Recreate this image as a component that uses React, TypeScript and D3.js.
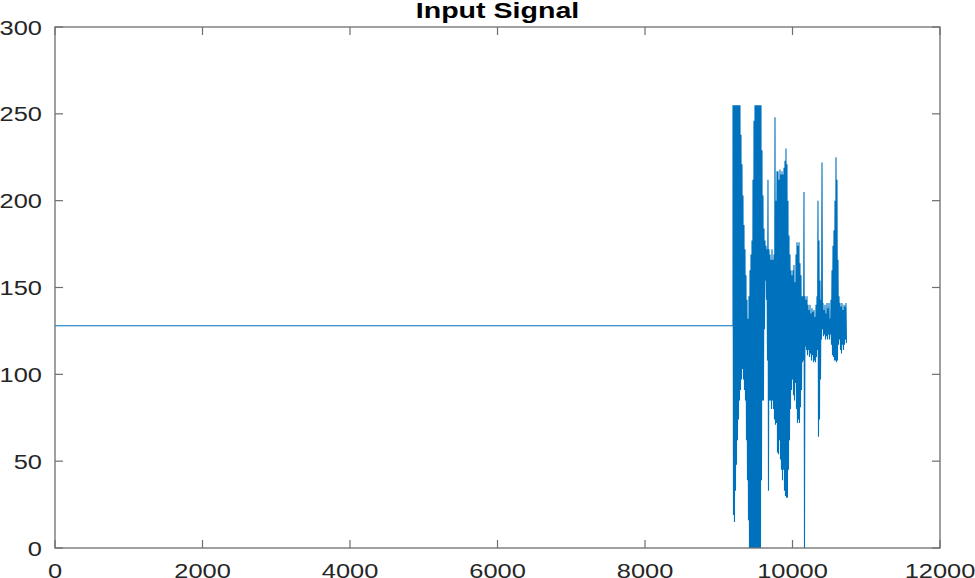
import React from "react";
import * as d3 from "d3";

// ---- data ----
const xTicks = [0, 2000, 4000, 6000, 8000, 10000, 12000];
const yTicks = [0, 50, 100, 150, 200, 250, 300];
const titleText = "Input Signal";

// idle (silent) part of the signal
const idleLevel = 128;
const idleStart = 1;
const burstStart = 9193;
const burstStep = 13.56; // samples per envelope bin

// per-bin maximum of the recorded burst
const burstMax = [
  255, 255, 255, 255, 255, 255, 255, 255, 238, 221, 203, 186, 172, 157, 143, 132,
  145, 160, 169, 177, 212, 246, 255, 255, 255, 255, 255, 255, 255, 229, 203, 184,
  177, 174, 172, 212, 172, 169, 166, 172, 166, 169, 248, 200, 217, 217, 212, 218,
  215, 217, 215, 219, 223, 230, 221, 200, 180, 169, 160, 157, 160, 163, 153, 169,
  176, 174, 176, 164, 157, 145, 145, 205, 145, 143, 145, 140, 137, 140, 135, 138,
  136, 137, 133, 140, 145, 200, 177, 154, 143, 222, 141, 137, 140, 135, 141, 138,
  141, 132, 143, 160, 174, 183, 200, 225, 212, 166, 145, 141, 139, 141, 137, 140,
  139, 141,
];
// per-bin minimum of the recorded burst
const burstMin = [
  19, 15, 33, 48, 62, 74, 85, 91, 97, 103, 97, 91, 85, 62, 39, 16,
  0, 0, 0, 0, 0, 0, 0, 0, 0, 0, 0, 0, 39, 85, 85, 126,
  154, 143, 108, 33, 85, 85, 80, 85, 80, 74, 71, 72, 55, 54, 62, 51,
  45, 39, 45, 33, 30, 29, 29, 45, 62, 80, 91, 97, 88, 85, 95, 80,
  72, 74, 72, 81, 91, 107, 108, 0, 116, 114, 111, 114, 110, 112, 108, 111,
  107, 108, 107, 110, 114, 64, 74, 97, 120, 126, 122, 123, 120, 122, 120, 123,
  120, 123, 117, 111, 110, 108, 108, 107, 108, 117, 120, 114, 112, 117, 114, 117,
  120, 118,
];

// ---- layout ----
const W = 975;
const H = 578;
const M = { left: 55, right: 35, top: 27, bottom: 30 };
const FONT = "'Liberation Sans', Arial, Helvetica, sans-serif";
const STRETCH = 1.27;

export default function App() {
  const x = d3.scaleLinear().domain([0, 12000]).range([M.left, W - M.right]);
  const y = d3.scaleLinear().domain([0, 300]).range([H - M.bottom, M.top]);

  const pts: [number, number][] = [
    [idleStart, idleLevel],
    [burstStart, idleLevel],
  ];
  burstMax.forEach((hi, i) => {
    const s = burstStart + i * burstStep;
    pts.push([s, hi]);
    pts.push([s + burstStep * 0.5, burstMin[i]]);
  });
  const line = d3
    .line<[number, number]>()
    .x((d) => x(d[0]))
    .y((d) => y(d[1]));

  const x0 = x(0), x1 = x(12000), y0 = y(0), y1 = y(300);
  const tickLen = 8;
  const axisColor = "#6e6e6e";
  const textColor = "#262626";

  return (
    <div style={{ position: "absolute", left: 0, top: 0 }}>
      <svg width={W} height={H} style={{ display: "block", background: "#fff" }}>
        <rect x={0} y={0} width={W} height={H} fill="#fff" />
        {/* signal */}
        <path d={line(pts) || ""} fill="none" stroke="#0072BD" strokeWidth={1.1} strokeLinejoin="miter" />
        {/* box */}
        <rect x={x0} y={y1} width={x1 - x0} height={y0 - y1} fill="none" stroke={axisColor} strokeWidth={1.3} />
        {/* x ticks */}
        {xTicks.map((t) => (
          <g key={"x" + t}>
            <line x1={x(t)} x2={x(t)} y1={y0} y2={y0 - tickLen} stroke={axisColor} strokeWidth={1.2} />
            <line x1={x(t)} x2={x(t)} y1={y1} y2={y1 + tickLen} stroke={axisColor} strokeWidth={1.2} />
            <text
              transform={`translate(${x(t)},${y0 + 29.5}) scale(${STRETCH},1)`}
              textAnchor="middle"
              fontFamily={FONT}
              fontSize={20}
              fill={textColor}
            >
              {t}
            </text>
          </g>
        ))}
        {/* y ticks */}
        {yTicks.map((t) => (
          <g key={"y" + t}>
            <line x1={x0} x2={x0 + tickLen} y1={y(t)} y2={y(t)} stroke={axisColor} strokeWidth={1.2} />
            <line x1={x1} x2={x1 - tickLen} y1={y(t)} y2={y(t)} stroke={axisColor} strokeWidth={1.2} />
            <text
              transform={`translate(${x0 - 13},${y(t) + 7.5}) scale(${STRETCH},1)`}
              textAnchor="end"
              fontFamily={FONT}
              fontSize={20}
              fill={textColor}
            >
              {t}
            </text>
          </g>
        ))}
        {/* title */}
        <text
          transform={`translate(${(x0 + x1) / 2},18) scale(${STRETCH},1)`}
          textAnchor="middle"
          fontFamily={FONT}
          fontSize={22.5}
          fontWeight="bold"
          fill="#000"
        >
          {titleText}
        </text>
      </svg>
    </div>
  );
}
